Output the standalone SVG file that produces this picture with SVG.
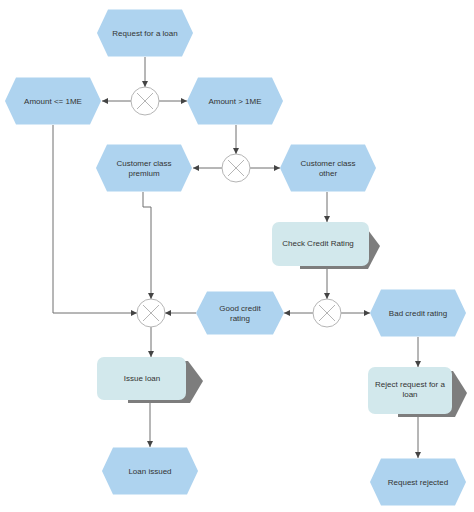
<svg xmlns="http://www.w3.org/2000/svg" width="474" height="512" viewBox="0 0 474 512">
<style>
.ev{fill:#aed3ef;stroke:none}
.fn{fill:#d2e8ec;stroke:none}
.sh{fill:#7d7d7d;stroke:none}
.gw{fill:#ffffff;stroke:#b5b5b5;stroke-width:1}
.gx{stroke:#b5b5b5;stroke-width:1}
.t{font-family:"Liberation Sans",Arial,sans-serif;font-size:8px;fill:#333333;text-anchor:middle}
.c{fill:none;stroke:#6e6e6e;stroke-width:1;marker-end:url(#ah)}
</style>
<defs>
<marker id="ah" markerUnits="userSpaceOnUse" markerWidth="7" markerHeight="6" refX="6" refY="3" orient="auto">
<path d="M0,0 L6,3 L0,6 z" fill="#444444"/>
</marker>
</defs>
<rect width="474" height="512" fill="#ffffff"/>
<g id="connectors">
<path class="c" d="M145,57 V87"/>
<path class="c" d="M131,101 H102"/>
<path class="c" d="M159,101 H187"/>
<path class="c" d="M236,125 V154"/>
<path class="c" d="M222,168 H193"/>
<path class="c" d="M250,168 H280"/>
<path class="c" d="M327,192 V222"/>
<path class="c" d="M327,266 V299"/>
<path class="c" d="M313,313 H284"/>
<path class="c" d="M341,313 H370"/>
<path class="c" d="M196,313 H165"/>
<path class="c" d="M53,125 V313 H137"/>
<path class="c" d="M143,192 V207 H151 V299"/>
<path class="c" d="M151,327 V357"/>
<path class="c" d="M150,400 V447"/>
<path class="c" d="M418,337 V367"/>
<path class="c" d="M418,414 V458"/>
</g>
<g id="request-loan">
<polygon class="ev" points="97,33 108,9.5 182,9.5 193,33 182,56.5 108,56.5"/>
<text class="t" x="145" y="36">Request for a loan</text>
</g>
<g id="gw1">
<circle class="gw" cx="145" cy="101" r="14"/>
<path class="gx" d="M137,93 L153,109 M153,93 L137,109"/>
</g>
<g id="amount-le">
<polygon class="ev" points="5,101 16,77.5 90,77.5 101,101 90,124.5 16,124.5"/>
<text class="t" x="53" y="104">Amount &lt;= 1ME</text>
</g>
<g id="amount-gt">
<polygon class="ev" points="187,101 198,77.5 272,77.5 283,101 272,124.5 198,124.5"/>
<text class="t" x="235" y="104">Amount &gt; 1ME</text>
</g>
<g id="gw2">
<circle class="gw" cx="236" cy="168" r="14"/>
<path class="gx" d="M228,160 L244,176 M244,160 L228,176"/>
</g>
<g id="premium">
<polygon class="ev" points="96,168 107,144.5 181,144.5 192,168 181,191.5 107,191.5"/>
<text class="t" x="144" y="166">Customer class</text>
<text class="t" x="144" y="176">premium</text>
</g>
<g id="other">
<polygon class="ev" points="280,168 291,144.5 365,144.5 376,168 365,191.5 291,191.5"/>
<text class="t" x="328" y="166">Customer class</text>
<text class="t" x="328" y="176">other</text>
</g>
<g id="check-credit">
<polygon class="sh" points="300,226 365,226 380,246 368,269 300,269"/>
<rect class="fn" x="272" y="222" width="97" height="44" rx="7"/>
<text class="t" x="318" y="246">Check Credit Rating</text>
</g>
<g id="gw3">
<circle class="gw" cx="327" cy="313" r="14"/>
<path class="gx" d="M319,305 L335,321 M335,305 L319,321"/>
</g>
<g id="good-credit">
<polygon class="ev" points="196,313 207,291.5 273,291.5 284,313 273,334.5 207,334.5"/>
<text class="t" x="240" y="311">Good credit</text>
<text class="t" x="240" y="321">rating</text>
</g>
<g id="bad-credit">
<polygon class="ev" points="370,313 381,289.5 455,289.5 466,313 455,336.5 381,336.5"/>
<text class="t" x="418" y="316">Bad credit rating</text>
</g>
<g id="gw4">
<circle class="gw" cx="151" cy="313" r="14"/>
<path class="gx" d="M143,305 L159,321 M159,305 L143,321"/>
</g>
<g id="issue-loan">
<polygon class="sh" points="128,361 188,361 203,381 190,403 128,403"/>
<rect class="fn" x="97" y="357" width="89" height="43" rx="7"/>
<text class="t" x="142" y="381">Issue loan</text>
</g>
<g id="reject">
<polygon class="sh" points="398,371 453,371 467,393 455,417 398,417"/>
<rect class="fn" x="368" y="367" width="84" height="47" rx="7"/>
<text class="t" x="410" y="387">Reject request for a</text>
<text class="t" x="410" y="397">loan</text>
</g>
<g id="loan-issued">
<polygon class="ev" points="102,471 113,447.5 187,447.5 198,471 187,494.5 113,494.5"/>
<text class="t" x="150" y="474">Loan issued</text>
</g>
<g id="request-rejected">
<polygon class="ev" points="370,482 381,458.5 455,458.5 466,482 455,505.5 381,505.5"/>
<text class="t" x="418" y="485">Request rejected</text>
</g>
</svg>
